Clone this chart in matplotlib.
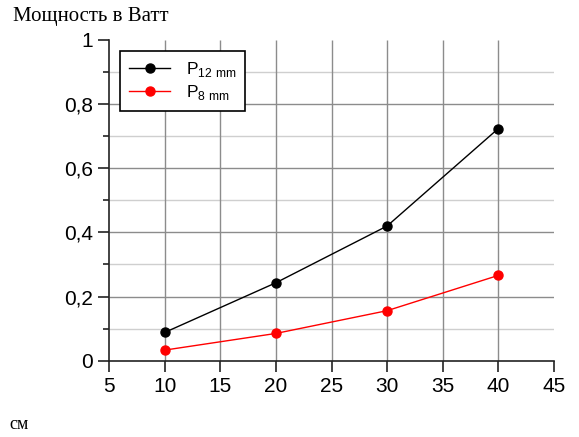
import matplotlib.pyplot as plt
from matplotlib.ticker import MultipleLocator, FuncFormatter

# distance, cm
dist = [10, 20, 30, 40]
# power, W
p12 = [0.088, 0.243, 0.420, 0.724]
p8 = [0.033, 0.085, 0.156, 0.266]

labels = [r'P$_{\mathregular{12\ mm}}$', r'P$_{\mathregular{8\ mm}}$']

x_grid = [10, 15, 20, 25, 30, 35, 40]
y_major_grid = [0.2, 0.4, 0.6, 0.8]
y_minor_grid = [0.1, 0.3, 0.5, 0.7, 0.9]

plt.rcParams['font.family'] = ['Liberation Sans', 'DejaVu Sans']

fig = plt.figure(figsize=(5.79, 4.37), dpi=100)
ax = fig.add_axes([0.1883, 0.1746, 0.7685, 0.7339])

# grid drawn by hand: no lines on the limits (y=1, x=45)
ax.hlines(y_minor_grid, 5, 45, color='#cfcfcf', lw=1, zorder=0)
ax.hlines(y_major_grid, 5, 45, color='#8c8c8c', lw=1, zorder=0)
ax.vlines(x_grid, 0, 1, color='#8c8c8c', lw=1, zorder=0)

ax.plot(dist, p12, color='black', lw=1, marker='o', ms=6.5, label=labels[0])
ax.plot(dist, p8, color='red', lw=1, marker='o', ms=6.5, label=labels[1])

ax.set_xlim(5, 45)
ax.set_ylim(0, 1)
ax.xaxis.set_major_locator(MultipleLocator(5))
ax.yaxis.set_major_locator(MultipleLocator(0.2))
ax.yaxis.set_minor_locator(MultipleLocator(0.1))
ax.yaxis.set_major_formatter(FuncFormatter(
    lambda v, p: '0' if abs(v) < 1e-9 else ('1' if abs(v - 1) < 1e-9 else f'{v:.1f}'.replace('.', ','))))

for s in ['top', 'right']:
    ax.spines[s].set_visible(False)
for s in ['left', 'bottom']:
    ax.spines[s].set_linewidth(1.2)
    ax.spines[s].set_color('#222222')

ax.tick_params(which='major', direction='out', length=8, width=1.2, labelsize=15, color='#222222')
ax.tick_params(which='minor', direction='out', length=4, width=1.2, color='#222222')
ax.tick_params(axis='x', pad=4)

leg = ax.legend(loc='upper left', bbox_to_anchor=(0.025, 0.965), fontsize=12.5,
                fancybox=False, framealpha=1, edgecolor='black',
                handlelength=2.4, handletextpad=0.9, borderpad=0.5,
                labelspacing=0.25, borderaxespad=0)
leg.get_frame().set_linewidth(1.2)

fig.text(0.022, 0.962, 'Мощность в Ватт', family='Liberation Serif', fontsize=15, va='center')
fig.text(0.017, 0.028, 'см', family='Liberation Serif', fontsize=13, va='center')

fig.savefig('out.png', dpi=100)
